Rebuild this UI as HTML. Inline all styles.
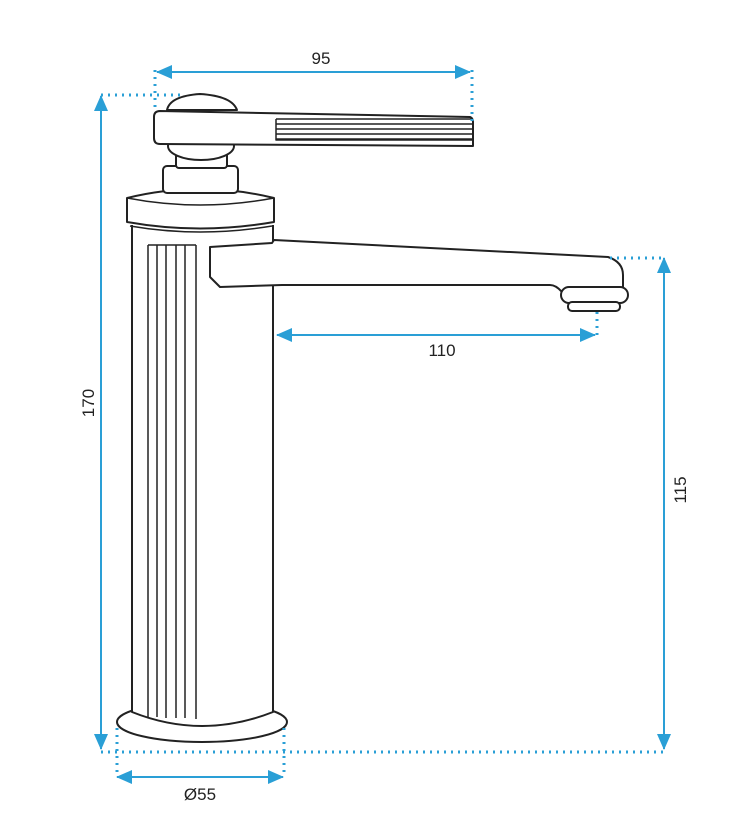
<!DOCTYPE html>
<html><head><meta charset="utf-8"><style>
html,body{margin:0;padding:0;background:#fff;}
svg{display:block;}
text{font-family:"Liberation Sans",sans-serif;font-size:17px;fill:#222;}
</style></head><body>
<svg width="734" height="816" viewBox="0 0 734 816" xmlns="http://www.w3.org/2000/svg">
<defs>
<marker id="a" markerWidth="16" markerHeight="14" refX="15" refY="7" orient="auto" markerUnits="userSpaceOnUse">
<path d="M0,0 L16,7 L0,14 z" fill="#2a9fd6"/></marker>
</defs>
<g fill="none" stroke="#222" stroke-width="2" stroke-linejoin="round">
<ellipse cx="202" cy="722" rx="85" ry="20" fill="#fff"/>
<path d="M132,225 L132,712 Q202,740 273,712 L273,225" fill="#fff"/>
<g stroke-width="1.5">
<path d="M148,245 V717 M157,245 V717 M166,245 V718 M176,245 V718 M185,245 V718 M196,245 V719 M148,245 H196"/>
</g>
<path d="M127,198 Q200,180 274,198 L274,222 Q200,235 127,222 Z" fill="#fff"/>
<path d="M127,198 Q200,212 274,198" stroke-width="1.5"/>
<path d="M130,226 Q200,238 272,226" stroke-width="1.5"/>
<path d="M210,247 L272,243 L274,240 L608,257 Q623,262 623,275 L623,290 L562,292 Q556,285 550,285 L282,285 L220,287 L210,277 Z" fill="#fff"/>
<rect x="561" y="287" width="67" height="16" rx="8" fill="#fff"/>
<rect x="568" y="302" width="52" height="9" rx="4" fill="#fff"/>
<rect x="163" y="166" width="75" height="27" rx="4" fill="#fff"/>
<rect x="176" y="152" width="51" height="16" rx="3" fill="#fff"/>
<ellipse cx="201" cy="146" rx="33" ry="14" fill="#fff"/>
<path d="M167,110 Q170,96 200,94 Q232,96 237,110 Z" fill="#fff"/>
<path d="M160,111 L470,117 Q473,118 473,122 L473,146 L160,144 Q154,144 154,138 L154,117 Q154,111 160,111 Z" fill="#fff"/>
<g stroke-width="1.5">
<path d="M276,119 H472 M276,124 H472 M276,129 H472 M276,134 H472 M276,139 H472 M276,119 V140 H472"/>
</g>
</g>
<g stroke="#2a9fd6" fill="none">
<g stroke-width="2">
<line x1="165" y1="72" x2="470" y2="72" marker-end="url(#a)"/>
<line x1="465" y1="72" x2="157" y2="72" marker-end="url(#a)"/>
<line x1="101" y1="740" x2="101" y2="96" marker-end="url(#a)"/>
<line x1="101" y1="110" x2="101" y2="749" marker-end="url(#a)"/>
<line x1="664" y1="740" x2="664" y2="258" marker-end="url(#a)"/>
<line x1="664" y1="270" x2="664" y2="749" marker-end="url(#a)"/>
<line x1="290" y1="335" x2="595" y2="335" marker-end="url(#a)"/>
<line x1="585" y1="335" x2="277" y2="335" marker-end="url(#a)"/>
<line x1="130" y1="777" x2="283" y2="777" marker-end="url(#a)"/>
<line x1="270" y1="777" x2="117" y2="777" marker-end="url(#a)"/>
</g>
<g stroke-width="3" stroke-dasharray="2 5">
<line x1="155" y1="70" x2="155" y2="112"/>
<line x1="472" y1="70" x2="472" y2="126"/>
<line x1="101" y1="95" x2="185" y2="95"/>
<line x1="101" y1="752" x2="666" y2="752"/>
<line x1="610" y1="258" x2="664" y2="258"/>
<line x1="597" y1="312" x2="597" y2="335"/>
<line x1="117" y1="728" x2="117" y2="777"/>
<line x1="284" y1="728" x2="284" y2="777"/>
</g>
</g>
<text x="321" y="64" text-anchor="middle">95</text>
<text x="442" y="356" text-anchor="middle">110</text>
<text x="200" y="800" text-anchor="middle">Ø55</text>
<text transform="translate(94,403) rotate(-90)" text-anchor="middle">170</text>
<text transform="translate(686,490) rotate(-90)" text-anchor="middle">115</text>
</svg>
</body></html>
